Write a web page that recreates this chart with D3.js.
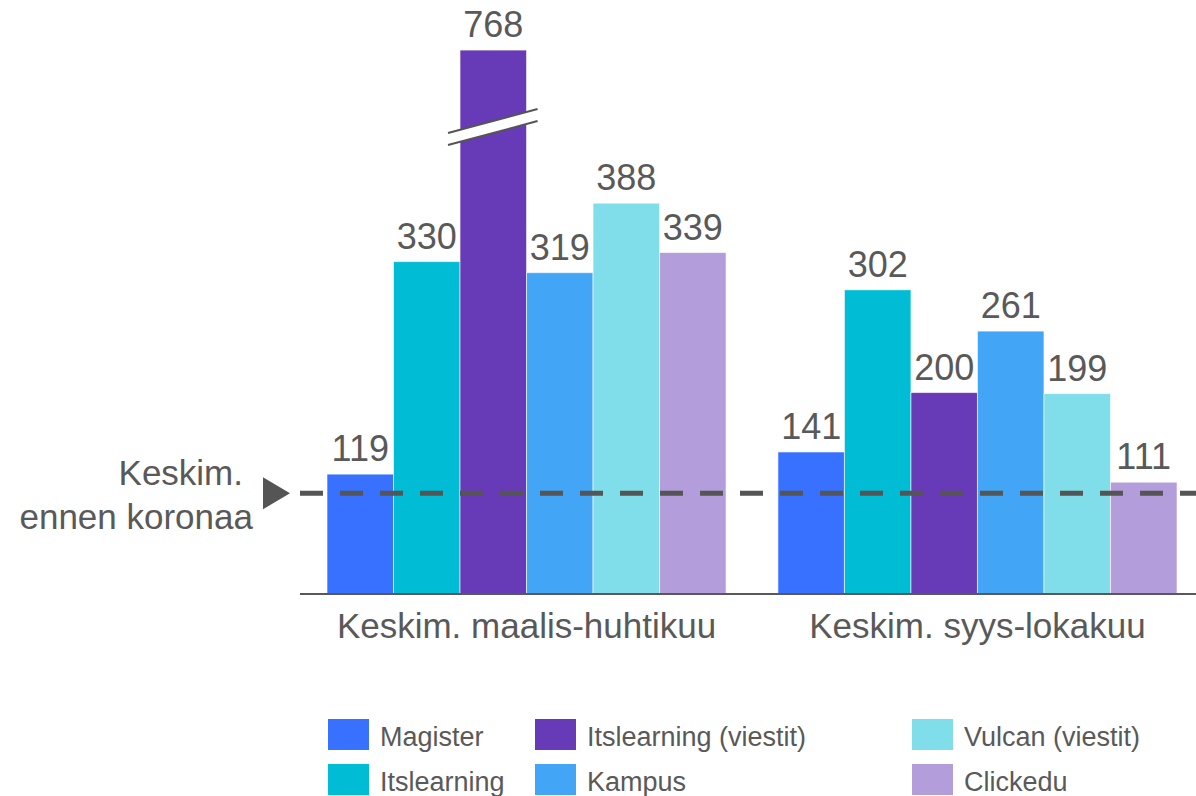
<!DOCTYPE html>
<html>
<head>
<meta charset="utf-8">
<script src="https://cdn.jsdelivr.net/npm/d3@7"></script>
<style>
  body { margin: 0; background: #fff; }
  text { font-family: "Liberation Sans", Arial, sans-serif; fill: #595959; }
</style>
</head>
<body>
<div id="chart"></div>
<script>
// Data
const categories = ['Keskim. maalis-huhtikuu', 'Keskim. syys-lokakuu']
const series = ['Magister', 'Itslearning', 'Itslearning (viestit)', 'Kampus', 'Vulcan (viestit)', 'Clickedu']
const colors = ['#3870ff', '#00bcd4', '#673ab7', '#42a5f5', '#80deea', '#b39ddb']
const marchApril = [119, 330, 768, 319, 388, 339]
const septOct = [141, 302, 200, 261, 199, 111]
const beforeCorona = 100   // reference level, dashed line
const breakCap = 540       // bars above this are drawn cut with a break mark

const dataset = categories.map((c, i) => ({
    category: c,
    values: series.map((s, j) => ({ series: s, value: [marchApril, septOct][i][j], color: colors[j] }))
}))

// Dimensions
const width = 1196, height = 796

const svg = d3.select('#chart')
    .append('svg')
    .attr('width', width)
    .attr('height', height)

// Scales
const yScale = d3.scaleLinear()
    .domain([0, 550])
    .range([594, 40])

const xGroup = d3.scaleBand()
    .domain(categories)
    .range([327, 1177])
    .paddingInner(0.115)
    .paddingOuter(0)

const xBar = d3.scaleBand()
    .domain(series)
    .range([0, xGroup.bandwidth()])

// Bars
const groups = svg.selectAll('g.group')
    .data(dataset)
    .join('g')
    .attr('class', 'group')
    .attr('transform', d => `translate(${xGroup(d.category)},0)`)

groups.selectAll('rect')
    .data(d => d.values)
    .join('rect')
    .attr('x', d => xBar(d.series))
    .attr('y', d => yScale(Math.min(d.value, breakCap)))
    .attr('width', xBar.bandwidth())
    .attr('height', d => yScale(0) - yScale(Math.min(d.value, breakCap)))
    .attr('fill', d => d.color)
    .attr('stroke', '#fff')
    .attr('stroke-opacity', 0.6)
    .attr('stroke-width', 1)

groups.selectAll('text.value')
    .data(d => d.values)
    .join('text')
    .attr('class', 'value')
    .attr('x', d => xBar(d.series) + xBar.bandwidth() / 2)
    .attr('y', d => yScale(Math.min(d.value, breakCap)) - 13)
    .attr('text-anchor', 'middle')
    .style('font-size', '36px')
    .text(d => d.value)

// Break mark on cut bars
groups.each(function (g) {
    const cut = g.values.filter(d => d.value > breakCap)
    cut.forEach(d => {
        const x0 = xBar(d.series) - 12
        const x1 = xBar(d.series) + xBar.bandwidth() + 11
        const yMid = yScale(breakCap) + 77
        const rise = 24
        const gap = 12
        const sel = d3.select(this)
        sel.append('polygon')
            .attr('points', [[x0, yMid + rise / 2 - gap / 2], [x1, yMid - rise / 2 - gap / 2],
                             [x1, yMid - rise / 2 + gap / 2], [x0, yMid + rise / 2 + gap / 2]].join(' '))
            .attr('fill', '#fff')
        ;[-gap / 2, gap / 2].forEach(o => {
            sel.append('line')
                .attr('x1', x0).attr('y1', yMid + rise / 2 + o)
                .attr('x2', x1).attr('y2', yMid - rise / 2 + o)
                .attr('stroke', '#555')
                .attr('stroke-width', 2)
        })
    })
})

// Axis baseline
svg.append('line')
    .attr('x1', 300).attr('x2', width)
    .attr('y1', yScale(0)).attr('y2', yScale(0))
    .attr('stroke', '#595959')
    .attr('stroke-width', 2)

// Category labels
svg.selectAll('text.cat')
    .data(categories)
    .join('text')
    .attr('class', 'cat')
    .attr('x', d => xGroup(d) + xGroup.bandwidth() / 2)
    .attr('y', 638)
    .attr('text-anchor', 'middle')
    .style('font-size', '35px')
    .text(d => d)

// Reference line (before corona)
svg.append('line')
    .attr('x1', 300).attr('x2', width)
    .attr('y1', yScale(beforeCorona)).attr('y2', yScale(beforeCorona))
    .attr('stroke', '#555')
    .attr('stroke-width', 5)
    .attr('stroke-dasharray', '22 16 25 18 24 18')
    .attr('stroke-dasharray', '23 17')

svg.append('path')
    .attr('d', `M263,${yScale(beforeCorona) - 16} L290,${yScale(beforeCorona)} L263,${yScale(beforeCorona) + 16} Z`)
    .attr('fill', '#555')

svg.append('text')
    .attr('x', 243).attr('y', 485)
    .attr('text-anchor', 'end')
    .style('font-size', '35px')
    .text('Keskim.')
svg.append('text')
    .attr('x', 253).attr('y', 529)
    .attr('text-anchor', 'end')
    .style('font-size', '35px')
    .text('ennen koronaa')

// Legend
const legendCols = [328, 535, 912]
const legendRows = [719, 764]
const legend = svg.selectAll('g.legend')
    .data(series)
    .join('g')
    .attr('class', 'legend')
    .attr('transform', (d, i) => `translate(${legendCols[Math.floor(i / 2)]},${legendRows[i % 2]})`)

legend.append('rect')
    .attr('width', 41)
    .attr('height', 31)
    .attr('fill', (d, i) => colors[i])

legend.append('text')
    .attr('x', 52)
    .attr('y', 27)
    .style('font-size', '27px')
    .text(d => d)
</script>
</body>
</html>
